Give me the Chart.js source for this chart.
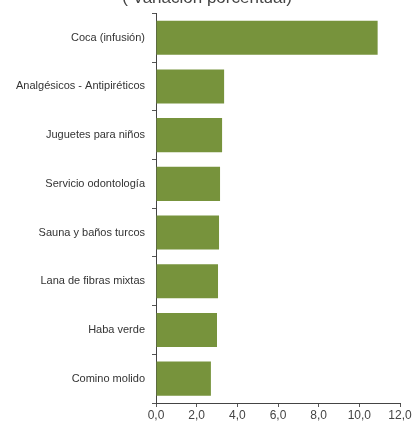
<!DOCTYPE html>
<html><head><meta charset="utf-8">
<script src="https://cdn.jsdelivr.net/npm/chart.js@4/dist/chart.umd.min.js"></script>
<style>
html,body{margin:0;padding:0;background:#fff;}
#wrap{position:relative;width:414px;height:436px;overflow:hidden;}
#c{position:absolute;left:0;top:-12px;}
</style></head>
<body><div id="wrap"><canvas id="c" width="414" height="448"></canvas></div>
<script>
const categories = ["Coca (infusión)","Analgésicos - Antipiréticos","Juguetes para niños","Servicio odontología","Sauna y baños turcos","Lana de fibras mixtas","Haba verde","Comino molido"];
const values = [10.9, 3.35, 3.25, 3.15, 3.1, 3.05, 3.0, 2.7];
const titleText = "   ( Variación porcentual)";
const xTicks = {min: 0, max: 12, step: 2};

const FONT = "'Liberation Sans Narrow','Arial Narrow','Liberation Sans',sans-serif";
new Chart(document.getElementById('c'), {
  type: 'bar',
  data: {labels: categories, datasets: [{data: values, backgroundColor: '#77933C', borderWidth: 0, categoryPercentage: 1, barPercentage: 0.7}]},
  options: {
    indexAxis: 'y', responsive: false, animation: false,
    layout: {padding: {left: 0, right: 14, top: 0, bottom: 0}},
    plugins: {
      legend: {display: false}, tooltip: {enabled: false},
      title: {display: true, text: titleText, color: '#444', font: {family: FONT, size: 17, weight: 'normal'}, padding: {top: 0, bottom: 5}, align: 'center'}
    },
    scales: {
      x: {
        min: xTicks.min, max: xTicks.max,
        ticks: {stepSize: xTicks.step, color: '#444', padding: 1, font: {family: FONT, size: 12},
          callback: v => v.toFixed(1).replace('.', ',')},
        grid: {drawOnChartArea: false, tickLength: 4, color: '#555'},
        border: {color: '#444', width: 1},
        afterFit: s => { s.height = 33; }
      },
      y: {
        ticks: {color: '#333', padding: 7, font: {family: FONT, size: 11}},
        grid: {drawOnChartArea: false, tickLength: 4, color: '#555', offset: true},
        border: {color: '#444', width: 1},
        afterFit: s => { s.width = 156; }
      }
    }
  }
});
</script></body></html>
